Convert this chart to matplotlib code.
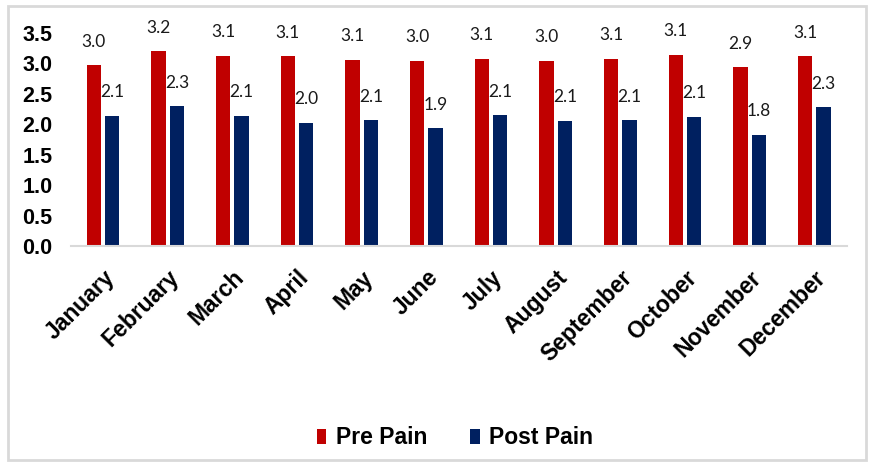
import matplotlib
matplotlib.use("Agg")
import matplotlib.pyplot as plt
from matplotlib.patches import Rectangle
from matplotlib import font_manager
import numpy as np

months = ["January", "February", "March", "April", "May", "June", "July",
          "August", "September", "October", "November", "December"]
pre_pain = [2.97, 3.20, 3.13, 3.12, 3.06, 3.04, 3.08, 3.04, 3.08, 3.14, 2.94, 3.12]
post_pain = [2.14, 2.30, 2.14, 2.03, 2.07, 1.94, 2.15, 2.06, 2.07, 2.13, 1.83, 2.28]
y_ticks = [0.0, 0.5, 1.0, 1.5, 2.0, 2.5, 3.0, 3.5]

RED = "#C00000"
NAVY = "#002060"
GRID = "#D9D9D9"

names = {f.name for f in font_manager.fontManager.ttflist}
label_font = "Lato" if "Lato" in names else "DejaVu Sans"

fig = plt.figure(figsize=(8.71, 4.62), dpi=100)
ax = fig.add_axes([0.0812, 0.4665, 0.8908, 0.4621])

x = np.arange(len(months))
w = 0.22
off = 0.142
b1 = ax.bar(x - off, pre_pain, width=w, color=RED, label="Pre Pain")
b2 = ax.bar(x + off, post_pain, width=w, color=NAVY, label="Post Pain")

for bars, vals in ((b1, pre_pain), (b2, post_pain)):
    for rect, v in zip(bars, vals):
        ax.annotate(f"{v:.1f}", (rect.get_x() + rect.get_width() / 2, v),
                    xytext=(0, 17), textcoords="offset points",
                    ha="center", va="center", fontsize=12.5,
                    family=label_font, color="#1a1a1a", annotation_clip=False)

ax.set_xlim(-0.5, len(months) - 0.5)
ax.set_ylim(0, 3.5)
ax.set_yticks(y_ticks)
ax.set_yticklabels([f"{t:.1f}" for t in y_ticks], fontsize=15.5,
                   fontweight="bold", family="Liberation Sans")
ax.set_xticks(x)
ax.set_xticklabels(months, rotation=45, ha="right", rotation_mode="anchor",
                   fontsize=16.5, fontweight="bold", family="Liberation Sans")
ax.tick_params(axis="y", length=0, pad=13)
ax.tick_params(axis="x", length=0, pad=14)

for s in ("top", "right", "left"):
    ax.spines[s].set_visible(False)
ax.spines["bottom"].set_color(GRID)
ax.spines["bottom"].set_linewidth(1.5)

leg = fig.legend(handles=[b1, b2], loc="center", bbox_to_anchor=(455 / 871, 1 - 438 / 462),
                 ncol=2, frameon=False, handlelength=0.4, handleheight=0.65,
                 handletextpad=0.4, columnspacing=1.9,
                 prop={"family": "Liberation Sans", "weight": "bold", "size": 16.5})

fig.patches.append(Rectangle((8 / 871, 2 / 462), 858 / 871, 454 / 462,
                             transform=fig.transFigure, fill=False,
                             edgecolor=GRID, linewidth=2))

fig.savefig("out.png", dpi=100)
